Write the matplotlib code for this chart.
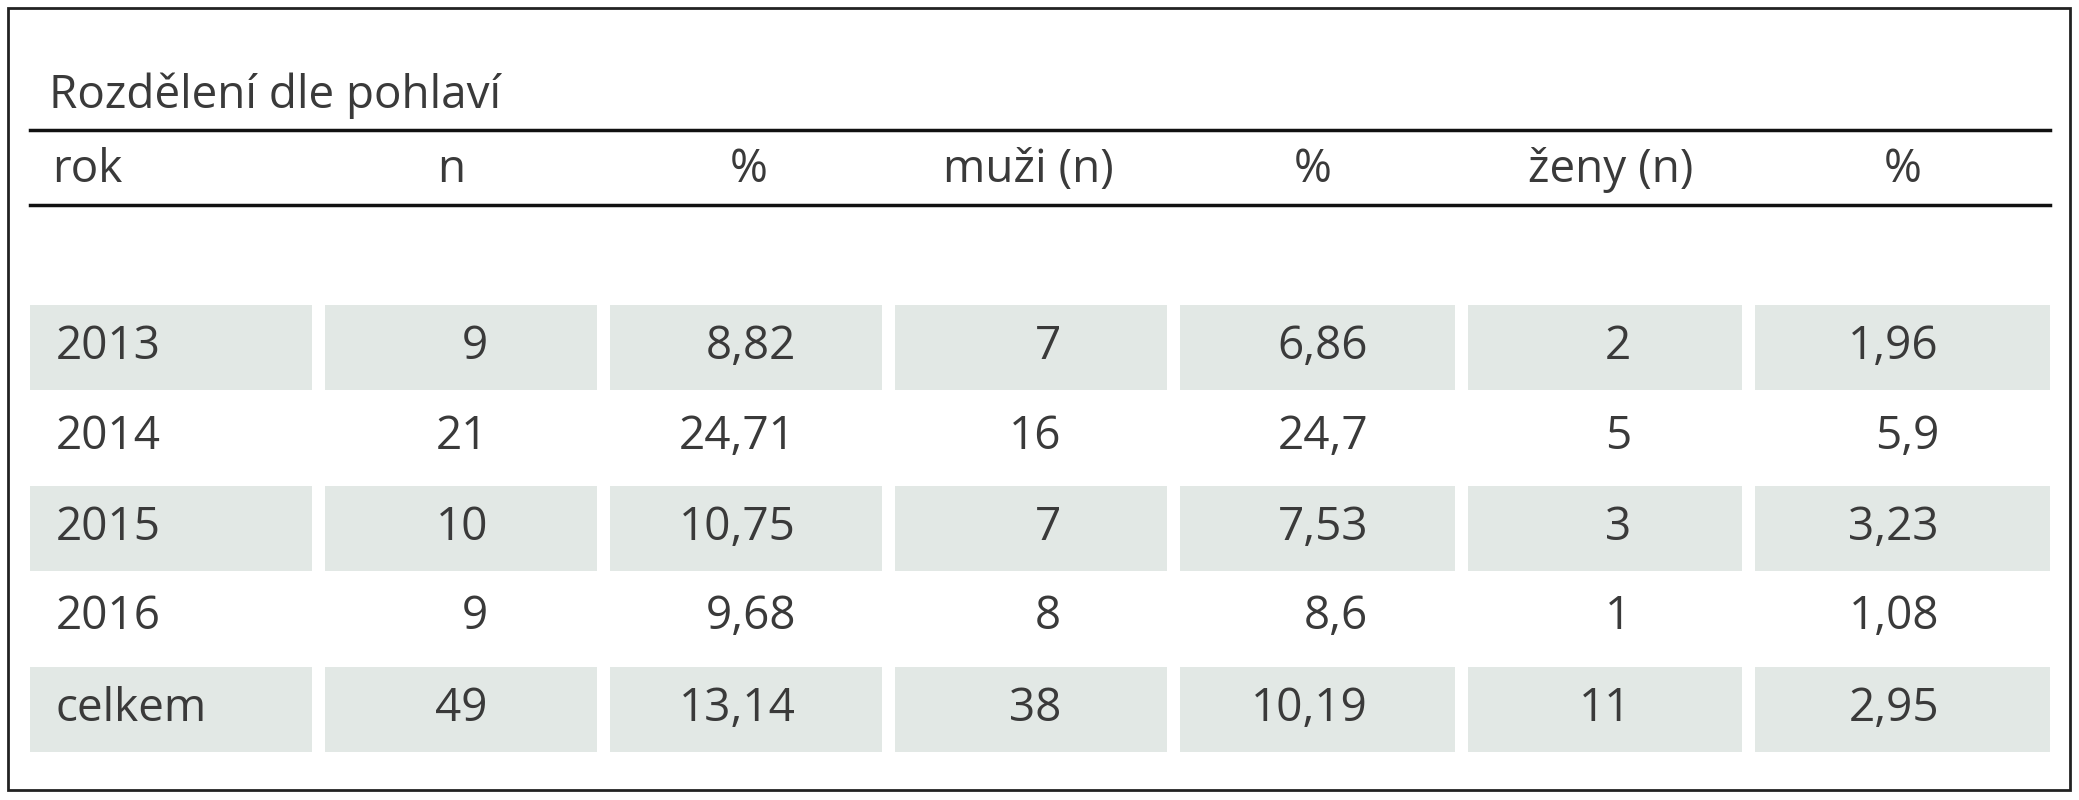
import matplotlib
matplotlib.use("Agg")
import matplotlib.pyplot as plt
from matplotlib.patches import Rectangle

title = "Rozdělení dle pohlaví"
headers = ["rok", "n", "%", "muži (n)", "%", "ženy (n)", "%"]
years = ["2013", "2014", "2015", "2016", "celkem"]
n_total = ["9", "21", "10", "9", "49"]
pct_total = ["8,82", "24,71", "10,75", "9,68", "13,14"]
men_n = ["7", "16", "7", "8", "38"]
men_pct = ["6,86", "24,7", "7,53", "8,6", "10,19"]
women_n = ["2", "5", "3", "1", "11"]
women_pct = ["1,96", "5,9", "3,23", "1,08", "2,95"]

W, H = 2079, 800
fig = plt.figure(figsize=(W/100, H/100), dpi=100)
ax = fig.add_axes([0, 0, 1, 1])
ax.set_xlim(0, W); ax.set_ylim(H, 0); ax.axis("off")
plt.rcParams['font.family'] = ['Open Sans', 'DejaVu Sans']
fs = 33
tc = "#3a3a3a"
shade = "#e2e8e5"

ax.add_patch(Rectangle((8, 8), 2062, 782, fill=False, lw=2, ec="#222"))
ax.text(49, 96, title, fontsize=fs, color=tc, va="center", ha="left")
ax.plot([30, 2050], [130, 130], color="#111", lw=2.5)
ax.plot([30, 2050], [205, 205], color="#111", lw=2.5)

col_x = [(30, 312), (325, 597), (610, 882), (895, 1167), (1180, 1455), (1468, 1742), (1755, 2050)]
head_x = [52, 451, 749, 1028, 1313, 1611, 1903]
val_x = [56, 488, 796, 1061, 1368, 1631, 1939]
for j, h in enumerate(headers):
    ax.text(head_x[j], 170, h, fontsize=fs, color=tc, va="center",
            ha="left" if j == 0 else "center")

cols = [years, n_total, pct_total, men_n, men_pct, women_n, women_pct]
row_y = [347, 437, 528, 617, 709]
rh = 85
for i in range(len(years)):
    y = row_y[i]
    if i % 2 == 0:
        for (x0, x1) in col_x:
            ax.add_patch(Rectangle((x0, y - rh/2), x1 - x0, rh, color=shade, lw=0))
    for j, c in enumerate(cols):
        ax.text(val_x[j], y, c[i], fontsize=fs, color=tc, va="center",
                ha="left" if j == 0 else "right")

fig.savefig("out.png", dpi=100)
